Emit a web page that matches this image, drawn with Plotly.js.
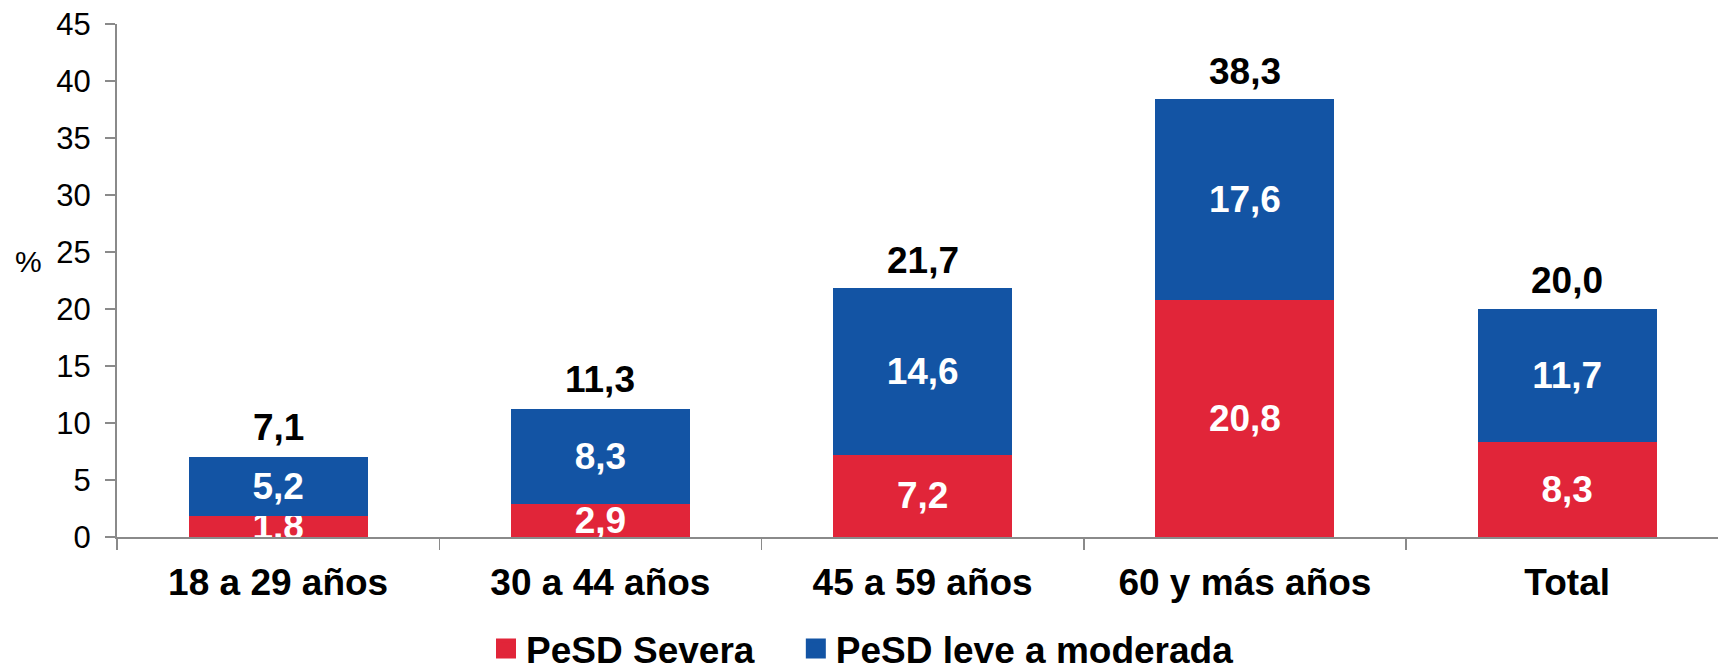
<!DOCTYPE html>
<html>
<head>
<meta charset="utf-8">
<script src="https://cdn.plot.ly/plotly-3.0.1.min.js"></script>
<style>html,body{margin:0;padding:0;background:#fff;}#chart{width:1718px;height:664px;}</style>
</head>
<body>
<div id="chart"></div>
<script>
const categories = ["18 a 29 años", "30 a 44 años", "45 a 59 años", "60 y más años", "Total"];
const severa = [1.8, 2.9, 7.2, 20.8, 8.3];
const leve = [5.2, 8.3, 14.6, 17.6, 11.7];
const totals = [7.1, 11.3, 21.7, 38.3, 20.0];
const seriesNames = ["PeSD Severa", "PeSD leve a moderada"];
const yTicks = [0, 5, 10, 15, 20, 25, 30, 35, 40, 45];

const RED = "#E12539";
const BLUE = "#1354A4";
const GRAY = "#8a8a8a";
const FONT = "Liberation Sans, Arial, sans-serif";
const fmt = v => v.toFixed(1).replace(".", ",");

const insideFont = {family: FONT, size: 37, color: "#ffffff", weight: "bold"};

const traces = [
  {type: "bar", x: categories, y: severa, name: seriesNames[0], marker: {color: RED},
   text: severa.map(fmt), textposition: "inside", insidetextanchor: "middle",
   textfont: insideFont, constraintext: "none", showlegend: false, hoverinfo: "skip"},
  {type: "bar", x: categories, y: leve, name: seriesNames[1], marker: {color: BLUE},
   text: leve.map(fmt), textposition: "inside", insidetextanchor: "middle",
   textfont: insideFont, constraintext: "none", showlegend: false, hoverinfo: "skip"},
  {type: "scatter", mode: "markers", x: [null], y: [null], name: seriesNames[0],
   marker: {symbol: "square", size: 16, color: RED, line: {width: 4, color: RED}},
   legend: "legend", showlegend: true},
  {type: "scatter", mode: "markers", x: [null], y: [null], name: seriesNames[1],
   marker: {symbol: "square", size: 16, color: BLUE, line: {width: 4, color: BLUE}},
   legend: "legend2", showlegend: true}
];

const annotations = categories.map((c, i) => ({
  x: c, y: totals[i], xref: "x", yref: "y", text: fmt(totals[i]), showarrow: false,
  yanchor: "middle", yshift: 29,
  font: {family: FONT, size: 37, color: "#000000", weight: "bold"}
}));
annotations.push({
  xref: "paper", yref: "paper", x: -0.055, y: 0.537, text: "%", showarrow: false,
  xanchor: "center", yanchor: "middle", font: {family: FONT, size: 30, color: "#000000"}
});

const legendFont = {family: FONT, size: 37, color: "#000000", weight: "bold"};

const layout = {
  width: 1718, height: 664,
  margin: {l: 117, r: 0, t: 23.7, b: 127.3, autoexpand: false},
  paper_bgcolor: "#ffffff", plot_bgcolor: "#ffffff",
  barmode: "stack", bargap: 0.445,
  showlegend: true,
  legend: {orientation: "h", x: 0.2305, y: -0.218, xanchor: "left", yanchor: "middle",
    font: legendFont, itemsizing: "trace", bgcolor: "rgba(0,0,0,0)"},
  legend2: {orientation: "h", x: 0.424, y: -0.218, xanchor: "left", yanchor: "middle",
    font: legendFont, itemsizing: "trace", bgcolor: "rgba(0,0,0,0)"},
  xaxis: {type: "category", range: [-0.5, 4.468], tickson: "boundaries",
    ticks: "outside", ticklen: 11, tickwidth: 1.5, tickcolor: GRAY,
    showline: true, linecolor: GRAY, linewidth: 2, showgrid: false, zeroline: false,
    tickfont: {family: FONT, size: 37, color: "#000000", weight: "bold"},
    ticklabelstandoff: 12, fixedrange: true},
  yaxis: {range: [0, 45], tickvals: yTicks, ticktext: yTicks.map(String),
    ticks: "outside", ticklen: 10, tickwidth: 1.5, tickcolor: GRAY,
    showline: true, linecolor: GRAY, linewidth: 2, showgrid: false, zeroline: false,
    tickfont: {family: FONT, size: 31, color: "#000000"},
    ticklabelstandoff: 8, fixedrange: true},
  annotations: annotations,
  separators: ",."
};

Plotly.newPlot("chart", traces, layout, {staticPlot: true, displayModeBar: false});
</script>
</body>
</html>
